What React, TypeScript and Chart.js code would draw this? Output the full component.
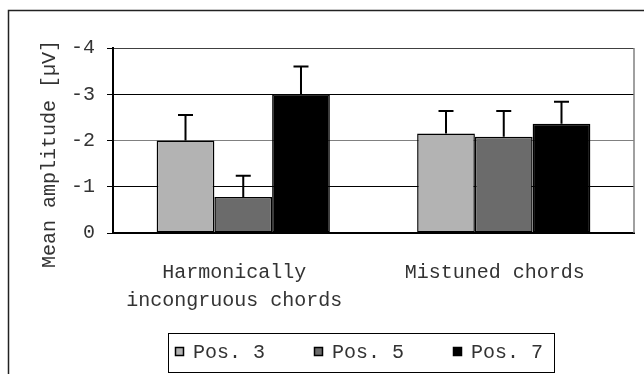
import React, { useEffect, useRef } from "react";
import { Chart, registerables } from "chart.js";

Chart.register(...registerables);

const categories: (string | string[])[] = [["Harmonically", "incongruous chords"], "Mistuned chords"];
const seriesLabels = ["Pos. 3", "Pos. 5", "Pos. 7"];
const pos3 = [-2.0, -2.15];
const pos5 = [-0.78, -2.08];
const pos7 = [-3.0, -2.36];
const err3 = [0.55, 0.49];
const err5 = [0.46, 0.56];
const err7 = [0.6, 0.48];
const yTicks = [-4, -3, -2, -1, 0];
const yTitle = "Mean amplitude [µV]";

const colors = ["#b3b3b3", "#6b6b6b", "#000000"];
const FONT = "'Liberation Mono', 'Courier New', monospace";
const TEXT = "#333333";

export default function App() {
  const ref = useRef<HTMLCanvasElement | null>(null);
  useEffect(() => {
    if (!ref.current) return;
    const errs = [err3, err5, err7];
    const extras = {
      id: "extras",
      afterDatasetsDraw(chart: any) {
        const ctx = chart.ctx;
        const ys = chart.scales.y;
        ctx.save();
        ctx.strokeStyle = "#000";
        ctx.lineWidth = 2;
        chart.data.datasets.forEach((ds: any, i: number) => {
          const meta = chart.getDatasetMeta(i);
          meta.data.forEach((bar: any, j: number) => {
            const v = ds.data[j];
            const top = ys.getPixelForValue(v - errs[i][j]);
            ctx.beginPath();
            ctx.moveTo(bar.x, bar.y);
            ctx.lineTo(bar.x, top);
            ctx.moveTo(bar.x - 7.5, top);
            ctx.lineTo(bar.x + 7.5, top);
            ctx.stroke();
          });
        });
        ctx.restore();
      },
      afterDraw(chart: any) {
        const ctx = chart.ctx;
        const a = chart.chartArea;
        ctx.save();
        // right border of plot
        ctx.strokeStyle = "#808080";
        ctx.lineWidth = 1.5;
        ctx.beginPath();
        ctx.moveTo(a.right, a.top);
        ctx.lineTo(a.right, a.bottom);
        ctx.stroke();
        // outer frame (left & top)
        ctx.strokeStyle = "#222";
        ctx.lineWidth = 1.5;
        ctx.beginPath();
        ctx.moveTo(8.5, 400);
        ctx.lineTo(8.5, 10.5);
        ctx.lineTo(700, 10.5);
        ctx.stroke();
        // y title
        ctx.fillStyle = TEXT;
        ctx.font = `20px ${FONT}`;
        ctx.textAlign = "center";
        ctx.textBaseline = "middle";
        ctx.translate(50, 154);
        ctx.rotate(-Math.PI / 2);
        ctx.fillText(yTitle, 0, 0);
        ctx.setTransform(1, 0, 0, 1, 0, 0);
        // legend
        ctx.strokeStyle = "#000";
        ctx.lineWidth = 1;
        ctx.strokeRect(168.5, 333.5, 386, 39);
        const xs = [175, 314, 453];
        chart.data.datasets.forEach((ds: any, i: number) => {
          ctx.fillStyle = ds.backgroundColor;
          ctx.fillRect(xs[i], 347, 9, 9);
          ctx.strokeStyle = "#000";
          ctx.lineWidth = 1.5;
          ctx.strokeRect(xs[i] + 0.5, 347.5, 8, 8);
          ctx.fillStyle = TEXT;
          ctx.textAlign = "left";
          ctx.textBaseline = "middle";
          ctx.fillText(ds.label, xs[i] + 18, 353);
        });
        ctx.restore();
      },
    };
    const chart = new Chart(ref.current, {
      type: "bar",
      data: {
        labels: categories,
        datasets: [pos3, pos5, pos7].map((d, i) => ({
          label: seriesLabels[i],
          data: d,
          backgroundColor: colors[i],
          borderColor: "#000",
          borderWidth: 1.5,
          borderSkipped: false,
          categoryPercentage: 0.665,
          barPercentage: 1,
        })),
      },
      options: {
        animation: false,
        responsive: false,
        events: [],
        layout: { padding: { left: 0, right: 10, top: 48, bottom: 0 } },
        plugins: { legend: { display: false }, tooltip: { enabled: false }, title: { display: false } },
        scales: {
          x: {
            grid: { display: false },
            border: { display: true, color: "#000", width: 2 },
            ticks: {
              color: TEXT,
              font: { family: FONT, size: 20, lineHeight: 1.4 },
              padding: 18,
              labelOffset: -9,
              maxRotation: 0,
              autoSkip: false,
            },
            afterFit(s: any) { s.height = 141; },
          },
          y: {
            reverse: true,
            min: -4,
            max: 0,
            afterBuildTicks(s: any) { s.ticks = yTicks.map((v) => ({ value: v })); },
            grid: {
              color: (c: any) => {
                const v = c.tick ? c.tick.value : 0;
                if (v === -2) return "#808080";
                if (v === -4) return "#404040";
                return "#000";
              },
              tickColor: "#000",
              tickLength: 6,
              lineWidth: 1,
            },
            border: { display: true, color: "#000", width: 2 },
            ticks: {
              color: TEXT,
              font: { family: FONT, size: 20 },
              padding: 12,
              callback: (v: any) => String(v),
            },
            afterFit(s: any) { s.width = 113; },
          },
        },
      },
      plugins: [extras],
    } as any);
    return () => chart.destroy();
  }, []);
  return (
    <div style={{ position: "fixed", left: 0, top: 0, width: 644, height: 374, background: "#fff" }}>
      <canvas ref={ref} width={644} height={374} style={{ display: "block" }} />
    </div>
  );
}
